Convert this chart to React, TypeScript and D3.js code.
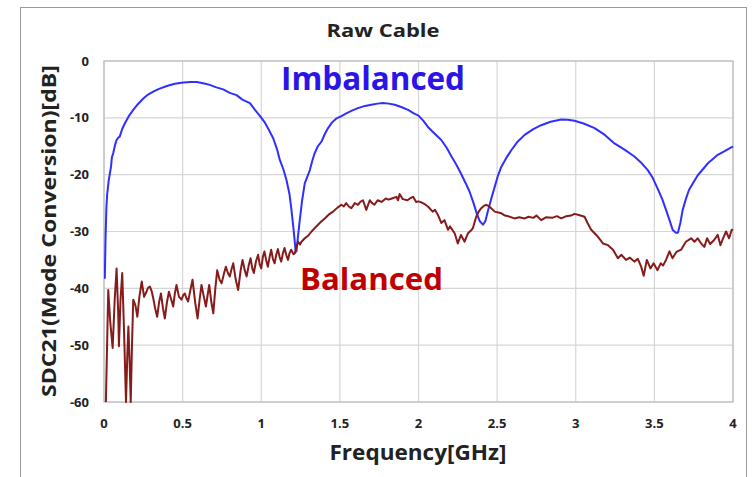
import React from "react";
import * as d3 from "d3";

const title = "Raw Cable";
const xLabel = "Frequency[GHz]";
const yLabel = "SDC21(Mode Conversion)[dB]";
const xTicks = [0, 0.5, 1, 1.5, 2, 2.5, 3, 3.5, 4];
const yTicks = [0, -10, -20, -30, -40, -50, -60];

const imbalanced: [number, number][] = [
  [0.005,-38.3],[0.01,-31],[0.015,-26],[0.02,-23.5],[0.03,-21],[0.038,-19.7],[0.045,-18.5],[0.05,-17],[0.059,-16.2],[0.07,-14.8],[0.08,-13.9],[0.09,-13.5],[0.1,-13.3],[0.115,-12],[0.134,-10.9],[0.16,-9.6],[0.186,-8.6],[0.215,-7.6],[0.25,-6.6],[0.28,-5.9],[0.313,-5.4],[0.35,-4.9],[0.4,-4.4],[0.45,-4.0],[0.504,-3.8],[0.55,-3.7],[0.59,-3.7],[0.63,-3.9],[0.673,-4.2],[0.71,-4.6],[0.758,-5.0],[0.8,-5.6],[0.843,-6.0],[0.88,-6.8],[0.928,-7.4],[0.96,-8.6],[0.99,-9.6],[1.02,-10.7],[1.05,-12.2],[1.076,-13.6],[1.1,-15.5],[1.118,-17.4],[1.14,-19],[1.16,-20.9],[1.18,-23.5],[1.192,-26.2],[1.205,-29.5],[1.218,-33.2],[1.224,-33.5],[1.235,-30.5],[1.245,-28],[1.26,-24.5],[1.277,-21.5],[1.295,-20.2],[1.309,-19.2],[1.325,-17.5],[1.34,-16.2],[1.36,-15],[1.383,-14.2],[1.405,-12.8],[1.425,-11.8],[1.45,-10.8],[1.478,-10.1],[1.51,-9.7],[1.541,-9.2],[1.58,-8.7],[1.615,-8.3],[1.66,-7.9],[1.7,-7.7],[1.74,-7.5],[1.774,-7.4],[1.81,-7.5],[1.849,-7.7],[1.89,-8.1],[1.934,-8.6],[1.97,-9.2],[2.0,-9.6],[2.03,-10.5],[2.06,-11.6],[2.1,-12.7],[2.145,-13.9],[2.18,-15.3],[2.21,-16.8],[2.24,-18.2],[2.27,-19.8],[2.3,-21.5],[2.325,-23],[2.35,-25],[2.37,-26.8],[2.39,-28.2],[2.41,-28.8],[2.425,-28.2],[2.443,-26.2],[2.465,-24],[2.485,-22.1],[2.505,-20.2],[2.527,-18.6],[2.56,-17],[2.59,-15.7],[2.63,-14.2],[2.675,-13.0],[2.73,-12],[2.78,-11.3],[2.84,-10.7],[2.908,-10.3],[2.95,-10.35],[2.992,-10.5],[3.05,-11],[3.12,-11.8],[3.18,-12.9],[3.246,-14.5],[3.31,-15.6],[3.373,-16.8],[3.42,-18],[3.458,-19.2],[3.49,-20.6],[3.52,-22.4],[3.55,-24.3],[3.574,-26.2],[3.6,-28.3],[3.616,-29.7],[3.635,-30.2],[3.65,-30.2],[3.665,-28.5],[3.68,-26.2],[3.7,-24.3],[3.72,-22.7],[3.75,-21.3],[3.776,-20.1],[3.81,-19],[3.84,-18],[3.87,-17.3],[3.903,-16.5],[3.95,-15.8],[3.988,-15.2],[4.0,-15.1]
];

const balanced: [number, number][] = [
  [0.012,-60],[0.027,-40.3],[0.04,-46],[0.055,-50.5],[0.068,-42],[0.08,-36.5],[0.09,-44],[0.095,-50.2],[0.105,-42],[0.116,-37.3],[0.128,-48],[0.14,-60],[0.148,-52],[0.155,-46.7],[0.163,-53],[0.17,-60],[0.178,-50],[0.186,-42],[0.2,-43],[0.212,-45],[0.225,-41.5],[0.24,-38.8],[0.255,-41.5],[0.27,-40.6],[0.28,-39.9],[0.292,-39.7],[0.303,-40.5],[0.313,-41.7],[0.325,-43.5],[0.338,-45],[0.35,-42.5],[0.362,-40.9],[0.375,-43.5],[0.387,-45.3],[0.4,-42.5],[0.413,-40.6],[0.428,-42],[0.44,-43.2],[0.45,-41],[0.461,-39.4],[0.477,-41.5],[0.493,-42],[0.504,-41.2],[0.514,-40.9],[0.525,-41.8],[0.535,-42.3],[0.55,-40.2],[0.563,-38.5],[0.58,-42.5],[0.595,-45.3],[0.608,-42],[0.62,-39.4],[0.635,-41.5],[0.648,-43.2],[0.66,-41],[0.669,-39.4],[0.683,-42.5],[0.695,-44.4],[0.708,-40],[0.72,-36.8],[0.735,-38.5],[0.748,-39.1],[0.762,-37.5],[0.775,-36.2],[0.788,-37.3],[0.8,-37.9],[0.812,-36.5],[0.822,-35.6],[0.838,-38.5],[0.853,-40.3],[0.868,-37],[0.881,-35],[0.895,-36.8],[0.907,-37.9],[0.92,-36],[0.932,-34.7],[0.943,-36.5],[0.953,-37.3],[0.967,-35.2],[0.98,-34.1],[0.99,-35.8],[1.0,-36.5],[1.01,-34.5],[1.02,-33.5],[1.031,-35],[1.042,-36.2],[1.053,-34.5],[1.063,-33.2],[1.074,-34.8],[1.085,-35.6],[1.096,-34],[1.106,-33.1],[1.117,-34.5],[1.127,-35.3],[1.138,-33.8],[1.148,-32.9],[1.16,-34.2],[1.17,-35],[1.18,-33.8],[1.19,-33.2],[1.205,-34],[1.214,-33.8],[1.225,-32.5],[1.235,-31.8],[1.246,-32.3],[1.256,-31.8],[1.277,-31.2],[1.3,-30.7],[1.32,-30],[1.34,-29.4],[1.361,-28.8],[1.38,-28.3],[1.404,-27.7],[1.43,-27],[1.457,-26.5],[1.485,-25.8],[1.51,-25.3],[1.525,-25.6],[1.54,-25],[1.557,-25.6],[1.573,-25.9],[1.595,-25],[1.615,-25.3],[1.63,-24.8],[1.647,-24.5],[1.668,-26.2],[1.69,-24.5],[1.705,-25],[1.72,-25.3],[1.74,-24.5],[1.765,-24.8],[1.792,-24.2],[1.81,-24.4],[1.83,-24.2],[1.86,-23.9],[1.87,-24.5],[1.88,-23.4],[1.9,-24.3],[1.93,-24.5],[1.95,-24.1],[1.966,-23.9],[1.985,-24.8],[2.0,-24.7],[2.02,-24.9],[2.04,-25.2],[2.06,-25.6],[2.09,-26.5],[2.105,-26.2],[2.124,-27.1],[2.145,-28.5],[2.165,-28],[2.188,-29.7],[2.2,-29.1],[2.23,-30.3],[2.25,-32.1],[2.27,-30.6],[2.293,-31.8],[2.315,-30.3],[2.335,-29.8],[2.346,-29.4],[2.367,-27.4],[2.385,-26.4],[2.399,-25.9],[2.415,-25.5],[2.43,-25.3],[2.45,-25.6],[2.485,-26.5],[2.527,-26.8],[2.55,-27.2],[2.57,-27.3],[2.61,-27.7],[2.64,-27.5],[2.675,-27.7],[2.7,-27.4],[2.73,-27.6],[2.75,-27.2],[2.78,-28],[2.81,-27.5],[2.85,-27.6],[2.88,-27.3],[2.908,-27.7],[2.94,-27.3],[2.97,-27.2],[2.992,-26.9],[3.02,-27.1],[3.056,-27.4],[3.075,-28.5],[3.098,-29.7],[3.12,-30.3],[3.14,-30.9],[3.173,-32.1],[3.205,-32.4],[3.237,-33.2],[3.268,-34.7],[3.29,-34.1],[3.32,-35],[3.345,-34.6],[3.373,-35.3],[3.395,-34.8],[3.416,-36.2],[3.432,-37.8],[3.452,-35],[3.475,-36.5],[3.495,-35.6],[3.52,-36.8],[3.54,-35.6],[3.555,-36],[3.574,-35],[3.596,-33.5],[3.615,-34.7],[3.64,-33.6],[3.67,-33.2],[3.7,-31.8],[3.734,-31.2],[3.755,-31.8],[3.775,-31.2],[3.8,-32.2],[3.818,-32.7],[3.835,-31.2],[3.855,-32.2],[3.88,-31.5],[3.903,-30.6],[3.92,-32.4],[3.94,-31],[3.956,-30],[3.975,-31.2],[3.992,-29.7],[4.0,-29.8]
];

const W = 754, H = 477;
const plot = { left: 104, right: 733, top: 61, bottom: 402 };
const FONT = "'Open Sans', 'Liberation Sans', sans-serif";

export default function App() {
  const x = d3.scaleLinear().domain([0, 4]).range([plot.left, plot.right]);
  const y = d3.scaleLinear().domain([-60, 0]).range([plot.bottom, plot.top]);
  const line = d3.line<[number, number]>().x(d => x(d[0])).y(d => y(d[1]));

  return (
    <svg width={W} height={H} style={{ position: "absolute", left: 0, top: 0, background: "#fff" }}>
      <defs>
        <clipPath id="pc">
          <rect x={plot.left} y={plot.top - 2} width={plot.right - plot.left + 2} height={plot.bottom - plot.top + 3} />
        </clipPath>
      </defs>
      <rect x={0} y={0} width={W} height={H} fill="#fff" />
      <rect x={20.5} y={7.5} width={726} height={490} fill="none" stroke="#9a9a9a" strokeWidth={1} />
      {xTicks.map(t => (
        <line key={"gx" + t} x1={x(t)} x2={x(t)} y1={plot.top} y2={plot.bottom} stroke="#d6d6d6" strokeWidth={1.2} />
      ))}
      {yTicks.map(t => (
        <line key={"gy" + t} x1={plot.left} x2={plot.right} y1={y(t)} y2={y(t)} stroke="#d6d6d6" strokeWidth={1.2} />
      ))}
      <rect x={plot.left} y={plot.top} width={plot.right - plot.left} height={plot.bottom - plot.top} fill="none" stroke="#bdbdbd" strokeWidth={1.2} />
      <g clipPath="url(#pc)">
        <path d={line(imbalanced) || ""} fill="none" stroke="#2f2fff" strokeWidth={2} strokeLinejoin="round" />
        <path d={line(balanced) || ""} fill="none" stroke="#861b1b" strokeWidth={2} strokeLinejoin="round" />
      </g>
      {yTicks.map(t => (
        <text key={"ty" + t} x={plot.left - 15} y={y(t)} dy="0.35em" textAnchor="end" fontFamily={FONT} fontWeight="bold" fontSize={13} fill="#222">{t}</text>
      ))}
      {xTicks.map(t => (
        <text key={"tx" + t} x={x(t)} y={428} textAnchor="middle" fontFamily={FONT} fontWeight="bold" fontSize={13} fill="#222">{t}</text>
      ))}
      <text x={383} y={37} textAnchor="middle" fontFamily={FONT} fontWeight="bold" fontSize={18} fill="#222" textLength={113} lengthAdjust="spacingAndGlyphs">{title}</text>
      <text x={418} y={460} textAnchor="middle" fontFamily={FONT} fontWeight="bold" fontSize={21} fill="#222" textLength={177} lengthAdjust="spacingAndGlyphs">{xLabel}</text>
      <text transform={`translate(56,231) rotate(-90)`} textAnchor="middle" fontFamily={FONT} fontWeight="bold" fontSize={19} fill="#222" textLength={332} lengthAdjust="spacingAndGlyphs">{yLabel}</text>
      <text x={281} y={90} fontFamily={FONT} fontWeight="bold" fontSize={32} fill="#2b14e6" textLength={184} lengthAdjust="spacingAndGlyphs">Imbalanced</text>
      <text x={300} y={290} fontFamily={FONT} fontWeight="bold" fontSize={31} fill="#c00000" textLength={143} lengthAdjust="spacingAndGlyphs">Balanced</text>
    </svg>
  );
}
